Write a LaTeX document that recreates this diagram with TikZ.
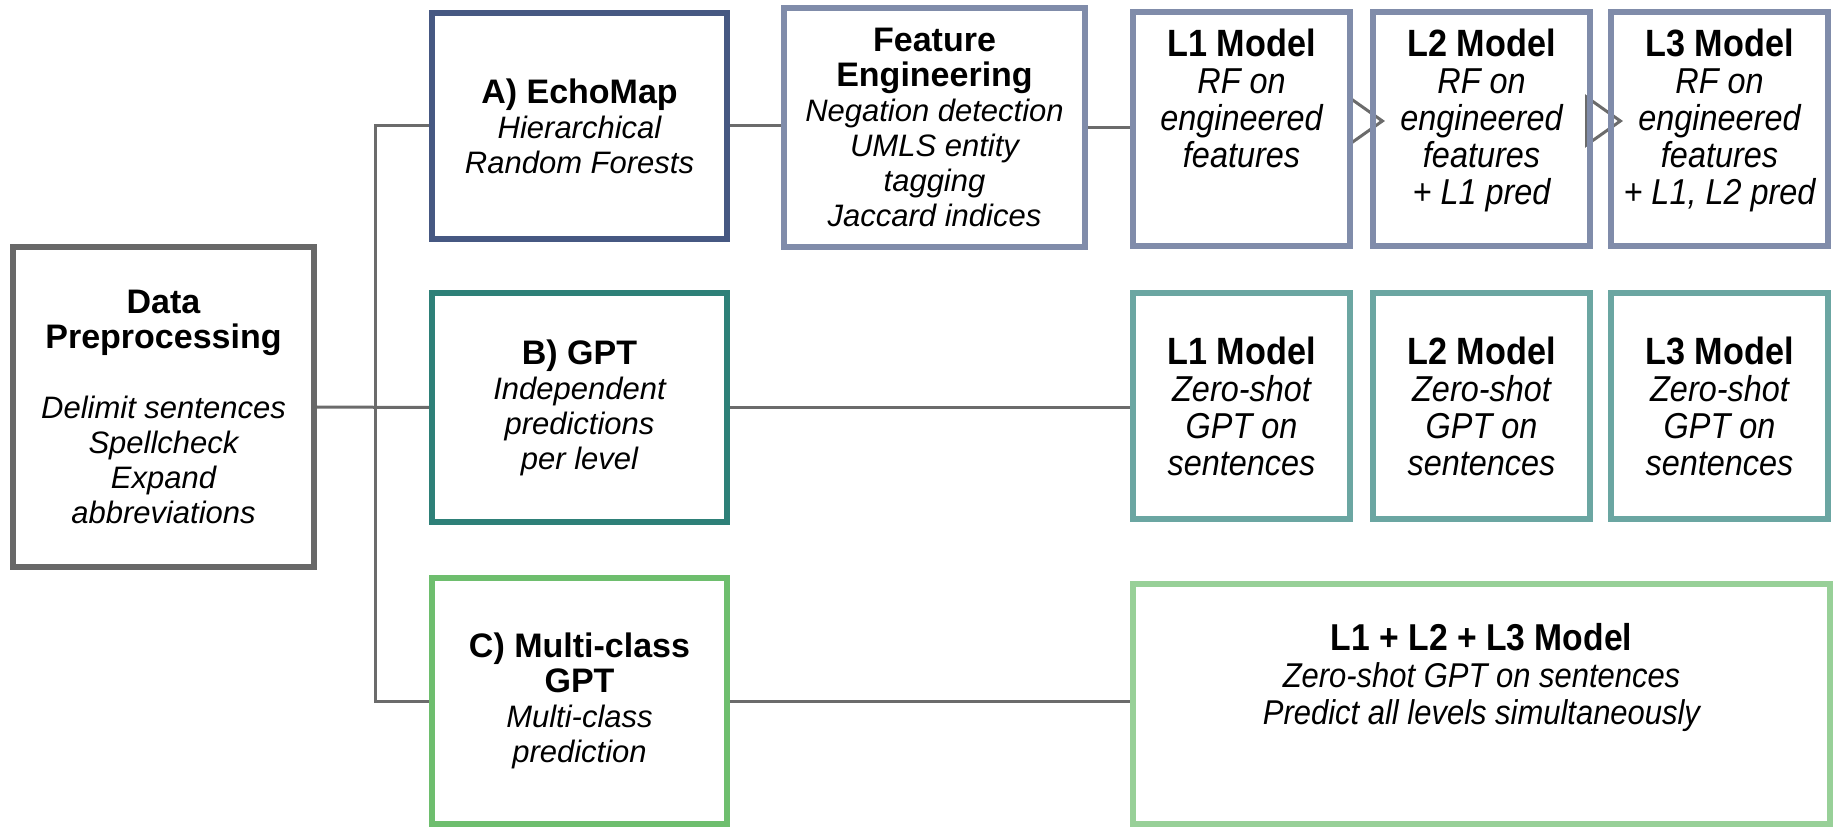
\documentclass[tikz,border=0pt]{standalone}
\usepackage{fontspec}
\setmainfont{Liberation Sans}
\newfontfamily\narrowfont[FakeStretch=0.9]{Liberation Sans}
\usepackage{xcolor}
\usepackage{tikz}
\usetikzlibrary{arrows.meta}
\usetikzlibrary{backgrounds}

\definecolor{prepgrey}{HTML}{686868}
\definecolor{echoblue}{HTML}{465882}
\definecolor{rfblue}{HTML}{808CAA}
\definecolor{gptteal}{HTML}{2E8078}
\definecolor{zsteal}{HTML}{6BA6A2}
\definecolor{multigreen}{HTML}{6EBE6E}
\definecolor{allgreen}{HTML}{98D098}
\definecolor{linkgrey}{HTML}{6B6B6B}

\newcommand{\hdr}[1]{{\upshape\bfseries\fontsize{17}{17.5}\selectfont #1}}
\newcommand{\lhdr}[1]{{\upshape\bfseries\fontsize{19}{18.5}\selectfont #1}}

\begin{document}
\begin{tikzpicture}[x=0.5pt, y=-0.5pt]
        \tikzset{
            every node/.style={
                align=center,
                font=\fontsize{15.5}{17.5}\selectfont\itshape,
            },
            box/.style={draw, line width=3pt, inner sep=0pt},
            lbox/.style={box, minimum width=108.5pt,
                font=\narrowfont\fontsize{18}{18.5}\selectfont\itshape},
            link/.style={draw=linkgrey, line width=1.5pt},
            flow/.style={draw=linkgrey, line width=1.5pt,
                -{Triangle[open, fill=white, length=19pt, width=26.5pt]}},
        }
        \useasboundingbox (0,0) rectangle (1841,828);

        % input
        \node[box, draw=prepgrey, minimum width=150.5pt, minimum height=160pt] (data) at (163.5,407)
            {\hdr{Data}\\ \hdr{Preprocessing}\\[17.5pt] Delimit sentences\\ Spellcheck\\ Expand\\ abbreviations};

        % the three approaches
        \node[box, draw=echoblue, minimum width=147.5pt, minimum height=113pt] (echo) at (579.5,126)
            {\hdr{A) EchoMap}\\ Hierarchical\\ Random Forests};
        \node[box, draw=gptteal, minimum width=147.5pt, minimum height=114.5pt] (gpt) at (579.5,407.5)
            {\hdr{B) GPT}\\ Independent\\ predictions\\ per level};
        \node[box, draw=multigreen, minimum width=147.5pt, minimum height=123pt] (multi) at (579.5,701)
            {\hdr{C) Multi-class}\\ \hdr{GPT}\\ Multi-class\\ prediction};

        \node[box, draw=rfblue, minimum width=150.5pt, minimum height=119.5pt] (feat) at (934.5,127.5)
            {\hdr{Feature}\\ \hdr{Engineering}\\ Negation detection\\ UMLS entity\\ tagging\\ Jaccard indices};

        % A) models, text kept to the top
        \node[lbox, draw=rfblue, minimum height=117pt] (rf1) at (1241.5,129)
            {\lhdr{L1 Model}\\ RF on\\ engineered\\ features\\ \mbox{}\\[-6.5pt] \mbox{}};
        \node[lbox, draw=rfblue, minimum height=117pt] (rf2) at (1481.5,129)
            {\lhdr{L2 Model}\\ RF on\\ engineered\\ features\\ + L1 pred\\[-6.5pt] \mbox{}};
        \node[lbox, draw=rfblue, minimum height=117pt] (rf3) at (1719.5,129)
            {\lhdr{L3 Model}\\ RF on\\ engineered\\ features\\ + L1, L2 pred\\[-6.5pt] \mbox{}};

        % B) models
        \node[lbox, draw=zsteal, minimum height=113pt] (zs1) at (1241.5,406)
            {\lhdr{L1 Model}\\ Zero-shot\\ GPT on\\ sentences};
        \node[lbox, draw=zsteal, minimum height=113pt] (zs2) at (1481.5,406)
            {\lhdr{L2 Model}\\ Zero-shot\\ GPT on\\ sentences};
        \node[lbox, draw=zsteal, minimum height=113pt] (zs3) at (1719.5,406)
            {\lhdr{L3 Model}\\ Zero-shot\\ GPT on\\ sentences};

        % C) model
        \node[box, draw=allgreen, minimum width=348.5pt, minimum height=120pt,
              font=\narrowfont\fontsize{17.2}{18.5}\selectfont\itshape] (all) at (1481.5,704)
            {{\upshape\bfseries\fontsize{18.7}{18.5}\selectfont L1 + L2 + L3 Model}\\ Zero-shot GPT on sentences\\
             Predict all levels simultaneously\\[11.5pt] \mbox{}};

        % connectors
        \coordinate (bus) at (375,407);
        \draw[link] (echo.west) -| (bus) |- (multi.west);
        \draw[link] (data.east) -- (gpt.west);
        \draw[link] (echo.east) -- (echo.east -| feat.west);
        \draw[link] (feat.east) -- (feat.east -| rf1.west);
        \draw[link] (gpt.east) -- (gpt.east -| zs1.west);
        \draw[link] (multi.east) -- (multi.east -| all.west);

        \begin{pgfonlayer}{background}
            \draw[flow] ([yshift=4pt]rf1.east) -- ([xshift=7.5pt, yshift=4pt]rf2.west);
            \draw[flow] ([yshift=4pt]rf2.east) -- ([xshift=7.5pt, yshift=4pt]rf3.west);
        \end{pgfonlayer}
    \end{tikzpicture}
\end{document}
